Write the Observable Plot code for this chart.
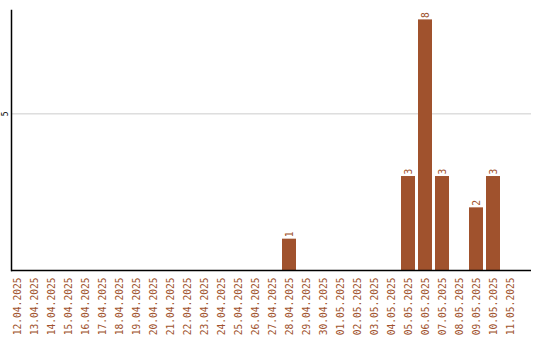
<!DOCTYPE html>
<html>
<head>
<meta charset="utf-8">
<script src="https://cdn.jsdelivr.net/npm/d3@7"></script>
<script src="https://cdn.jsdelivr.net/npm/@observablehq/plot@0.6"></script>
<style>
  html, body { margin: 0; padding: 0; background: #fff; }
</style>
</head>
<body>
<div id="chart"></div>
<script>
const dates = [
  "12.04.2025","13.04.2025","14.04.2025","15.04.2025","16.04.2025","17.04.2025",
  "18.04.2025","19.04.2025","20.04.2025","21.04.2025","22.04.2025","23.04.2025",
  "24.04.2025","25.04.2025","26.04.2025","27.04.2025","28.04.2025","29.04.2025",
  "30.04.2025","01.05.2025","02.05.2025","03.05.2025","04.05.2025","05.05.2025",
  "06.05.2025","07.05.2025","08.05.2025","09.05.2025","10.05.2025","11.05.2025"
];
const counts = [
  0,0,0,0,0,0,
  0,0,0,0,0,0,
  0,0,0,0,1,0,
  0,0,0,0,0,3,
  8,3,0,2,3,0
];
const yTicks = [5];

const data = dates.map((d, i) => ({date: d, count: counts[i]}));
const color = "#a0522d";

const chart = Plot.plot({
  width: 540,
  height: 340,
  marginLeft: 11,
  marginRight: 9,
  marginTop: 10,
  marginBottom: 70,
  style: {fontFamily: "DejaVu Sans Mono", fontSize: "9.6px", background: "#fff"},
  x: {domain: dates, range: [8.5, 518.5], paddingInner: 0.18, paddingOuter: 0.09},
  y: {domain: [0, 8.3]},
  marks: [
    Plot.ruleY(yTicks, {stroke: "#cccccc", strokeWidth: 1}),
    Plot.barY(data, {x: "date", y: "count", fill: color}),
    Plot.text(data.filter(d => d.count > 0), {
      x: "date", y: "count", text: d => String(d.count),
      rotate: -90, textAnchor: "start", dy: -2, fill: color, fontSize: 9.6
    }),
    Plot.axisX({tickRotate: -90, tickSize: 0, tickPadding: 7, fill: color, label: null, fontSize: 9.6}),
    Plot.axisY(yTicks, {tickSize: 0, tickPadding: 4, tickRotate: -90, textAnchor: "middle", fill: "#000", label: null, fontSize: 8}),
    Plot.ruleY([0], {stroke: "#000", strokeWidth: 1.5}),
    Plot.frame({anchor: "left", stroke: "#000", strokeWidth: 1.5})
  ]
});
document.getElementById("chart").appendChild(chart);
</script>
</body>
</html>
